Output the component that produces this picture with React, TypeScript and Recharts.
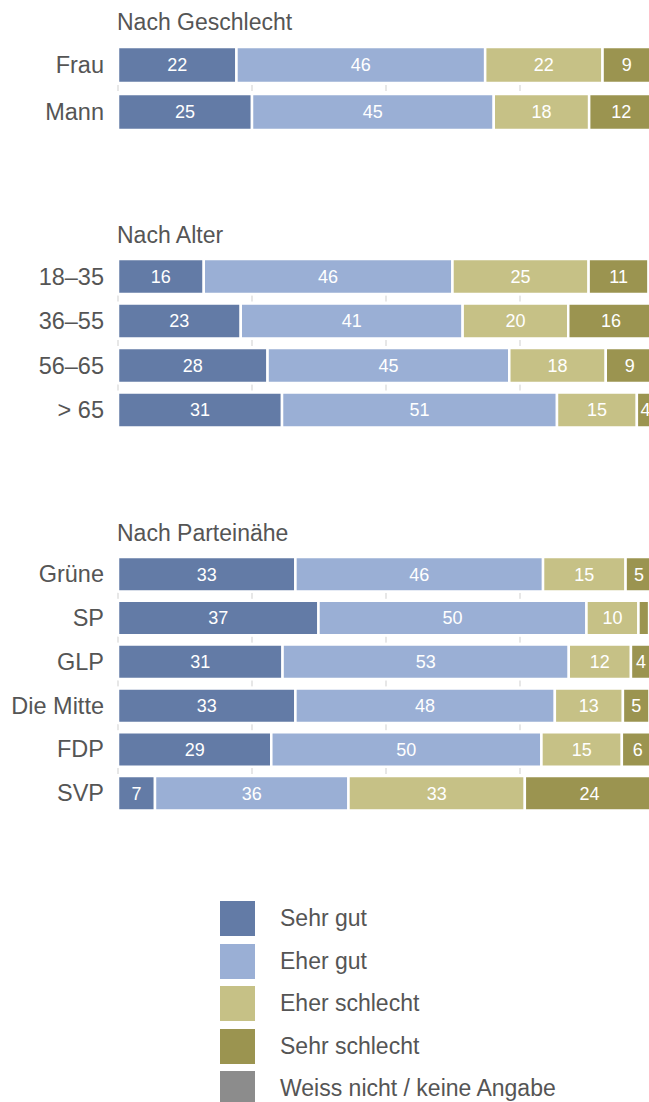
import { Bar, BarChart, CartesianGrid, LabelList, XAxis, YAxis } from "recharts";

const FONT = "'Liberation Sans', Arial, sans-serif";
const TEXT = "#555555";

const seriesKeys = ["sehrGut", "eherGut", "eherSchlecht", "sehrSchlecht", "weissNicht"];
const seriesNames = ["Sehr gut", "Eher gut", "Eher schlecht", "Sehr schlecht", "Weiss nicht / keine Angabe"];
const seriesColors = ["#637ba6", "#9aafd5", "#c6c186", "#9b9450", "#8c8c8c"];

const xTicks = [0, 25, 50, 75, 100];

const geschlechtCategories = ["Frau", "Mann"];
const geschlechtValues = [
  [22.1, 46.4, 21.9, 9, 0.6],
  [25, 45.1, 17.8, 12, 0.1],
];

const alterCategories = ["18–35", "36–55", "56–65", "> 65"];
const alterValues = [
  [16, 46.4, 25.4, 11.2, 1],
  [22.9, 41.4, 19.7, 16, 0],
  [27.9, 45.1, 18, 9, 0],
  [30.6, 51.3, 14.9, 3.6, 0],
];

const parteiCategories = ["Grüne", "SP", "GLP", "Die Mitte", "FDP", "SVP"];
const parteiValues = [
  [33.1, 46.2, 15.4, 5, 0.3],
  [37.4, 50, 9.7, 2, 0.9],
  [30.7, 53.4, 11.6, 3.8, 0.5],
  [33.1, 48.4, 12.7, 5, 0.8],
  [28.6, 50.4, 15, 5.9, 0.1],
  [6.9, 36.1, 32.9, 24.1, 0],
];

const toRows = (categories: string[], values: number[][]) =>
  categories.map((label, i) => {
    const row: Record<string, string | number> = { label };
    seriesKeys.forEach((key, j) => {
      row[key] = values[i][j];
    });
    return row;
  });

// short grey stubs between the rows, at each x tick
const gridStubs = (rows: number) => (props: any) => {
  const { x1, y1, y2, key } = props;
  const step = (y2 - y1) / rows;
  return (
    <g key={key}>
      {Array.from({ length: rows - 1 }, (_, i) => {
        const y = y1 + step * (i + 1);
        return <line key={i} x1={x1} x2={x1} y1={y - 3} y2={y + 3} stroke="#cfcfcf" strokeWidth={1} />;
      })}
    </g>
  );
};

const showValue = (v: any) => (typeof v === "number" && v >= 3 ? String(Math.round(v)) : "");

type GroupProps = {
  title: string;
  categories: string[];
  values: number[][];
  top: number;
  band: number;
  barSize: number;
};

const Group = ({ title, categories, values, top, band, barSize }: GroupProps) => {
  const data = toRows(categories, values);
  const height = band * categories.length;
  return (
    <>
      <div
        style={{
          position: "absolute",
          left: 117,
          top: top - 31,
          fontSize: 23,
          lineHeight: "24px",
          color: TEXT,
        }}
      >
        {title}
      </div>
      <div style={{ position: "absolute", left: 0, top }}>
        <BarChart
          width={654}
          height={height}
          data={data}
          layout="vertical"
          margin={{ top: 0, right: 0, bottom: 0, left: 0 }}
          barCategoryGap={0}
        >
          <CartesianGrid horizontal={false} vertical={gridStubs(categories.length)} />
          <XAxis type="number" domain={[0, 100]} ticks={xTicks} allowDataOverflow hide />
          <YAxis
            type="category"
            dataKey="label"
            width={118}
            axisLine={false}
            tickLine={false}
            tickSize={0}
            tickMargin={14}
            tick={{ fontSize: 23.5, fill: TEXT, fontFamily: FONT }}
          />
          {seriesKeys.map((key, i) => (
            <Bar
              key={key}
              dataKey={key}
              name={seriesNames[i]}
              stackId="a"
              fill={seriesColors[i]}
              stroke="#ffffff"
              strokeWidth={2.5}
              barSize={barSize}
              isAnimationActive={false}
            >
              <LabelList
                dataKey={key}
                position="center"
                formatter={showValue}
                fill="#ffffff"
                fontSize={18}
                fontFamily={FONT}
              />
            </Bar>
          ))}
        </BarChart>
      </div>
    </>
  );
};

export default function App() {
  return (
    <div
      style={{
        position: "fixed",
        left: 0,
        top: 0,
        width: 649,
        height: 1102,
        overflow: "hidden",
        background: "#ffffff",
        fontFamily: FONT,
      }}
    >
      <Group title="Nach Geschlecht" categories={geschlechtCategories} values={geschlechtValues} top={40.5} band={47} barSize={36} />
      <Group title="Nach Alter" categories={alterCategories} values={alterValues} top={254} band={44.5} barSize={35} />
      <Group title="Nach Parteinähe" categories={parteiCategories} values={parteiValues} top={552} band={43.8} barSize={34.5} />

      {seriesNames.map((name, i) => (
        <div
          key={name}
          style={{
            position: "absolute",
            left: 220,
            top: 901 + i * 42.5,
            height: 35,
            display: "flex",
            alignItems: "center",
          }}
        >
          <div style={{ width: 35, height: 35, background: seriesColors[i] }} />
          <span style={{ marginLeft: 25, fontSize: 23, color: TEXT }}>{name}</span>
        </div>
      ))}
    </div>
  );
}
